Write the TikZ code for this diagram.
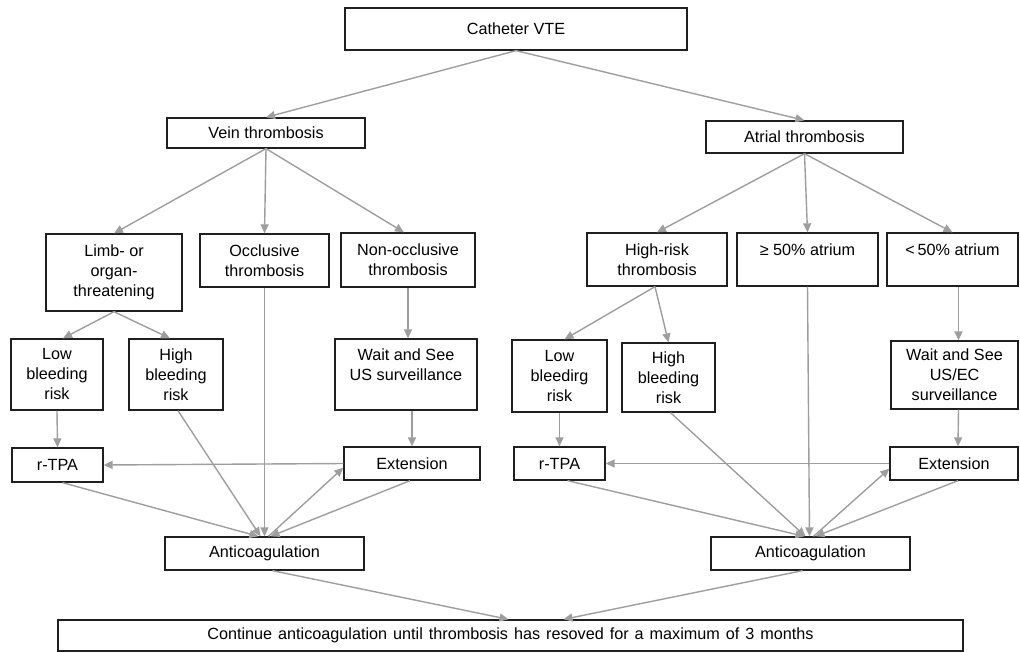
\documentclass[tikz,border=0pt]{standalone}
\usepackage{fontspec}
\setmainfont{Liberation Sans}
\usetikzlibrary{arrows.meta}
\begin{document}
\begin{tikzpicture}[x=1pt,y=-1pt,
 box/.style={draw=black!88, line width=1.3pt, fill=white, align=center, inner sep=0pt, font=\fontsize{16.2}{20}\selectfont},
 arr/.style={draw=black!38, line width=1.4pt, -{Triangle[length=9pt,width=8pt]}},
 ]
\useasboundingbox[fill=white] (0,0) rectangle (1020,653);
% top
\node[box, minimum width=342, minimum height=42] (cat) at (516,29) {Catheter VTE};
\node[box, minimum width=198, minimum height=30] (vein) at (266,133) {Vein thrombosis};
\node[box, minimum width=197, minimum height=32] (atrial) at (804.5,137) {Atrial thrombosis};
% left branch
\node[box, minimum width=136, minimum height=77] (limb) at (114,272.5) {Limb- or\\organ-\\threatening};
\node[box, minimum width=129, minimum height=53] (occl) at (264.5,260.5) {Occlusive\\thrombosis};
\node[box, minimum width=134, minimum height=54] (nonocc) at (408,260) {Non-occlusive\\thrombosis};
\node[box, minimum width=92, minimum height=71] (lowL) at (57,374.5) {Low\\bleeding\\risk};
\node[box, minimum width=94, minimum height=71] (highL) at (176,374.5) {High\\bleeding\\risk};
\node[box, minimum width=142, minimum height=71] (waitL) at (406,374.5) {Wait and See\\US surveillance\\\mbox{}};
\node[box, minimum width=91, minimum height=34] (rtpaL) at (57.5,465) {r-TPA};
\node[box, minimum width=136, minimum height=33] (extL) at (412,463.5) {Extension};
\node[box, minimum width=199, minimum height=33] (antiL) at (264.5,553.5) {Anticoagulation};
% right branch
\node[box, minimum width=140, minimum height=53] (hrisk) at (657,259.5) {High-risk\\thrombosis};
\node[box, minimum width=141, minimum height=53] (ge50) at (807.5,259.5) {≥ 50\% atrium\\\mbox{}};
\node[box, minimum width=131, minimum height=53] (lt50) at (952.5,259.5) {<\,50\% atrium\\\mbox{}};
\node[box, minimum width=95, minimum height=72] (lowR) at (559.5,376) {Low\\bleedirg\\risk};
\node[box, minimum width=93, minimum height=69] (highR) at (668.5,377.5) {High\\bleeding\\risk};
\node[box, minimum width=127, minimum height=68] (waitR) at (954.5,375) {Wait and See\\US/EC\\surveillance};
\node[box, minimum width=91, minimum height=33] (rtpaR) at (559.5,463.5) {r-TPA};
\node[box, minimum width=128, minimum height=33] (extR) at (954,463.5) {Extension};
\node[box, minimum width=199, minimum height=33] (antiR) at (810.5,553.5) {Anticoagulation};
% bottom
\node[box, minimum width=905, minimum height=31] (cont) at (510.5,635.5) {{\spaceskip=6pt plus 1pt Continue anticoagulation until thrombosis has resoved for a maximum of 3 months}};
% connectors top
\draw[arr] (cat.south) -- (vein.north);
\draw[arr] (cat.south) -- (atrial.north);
\draw[arr] (vein.south) -- (limb.north);
\draw[arr] (vein.south) -- (occl.north);
\draw[arr] (vein.south) -- ([xshift=-4pt]nonocc.north);
\draw[arr] (atrial.south) -- (hrisk.north);
\draw[arr] (atrial.south) -- (ge50.north);
\draw[arr] (atrial.south) -- (lt50.north);
% left
\draw[arr] (limb.south) -- ([xshift=6pt]lowL.north);
\draw[arr] (limb.south) -- ([xshift=-6pt]highL.north);
\draw[arr] (nonocc.south) -- ([xshift=2pt]waitL.north);
\draw[arr] (lowL.south) -- (rtpaL.north);
\draw[arr] ([xshift=6pt]waitL.south) -- (extL.north);
\draw[arr] ([xshift=2pt]highL.south) -- ([xshift=-4pt]antiL.north);
\draw[arr] (occl.south) -- (antiL.north);
\draw[arr] ([xshift=5pt]rtpaL.south) -- ([xshift=-6pt]antiL.north);
\draw[arr] (extL.west) -- (rtpaL.east);
\draw[arr] ([xshift=4pt]antiL.north) -- ([yshift=13pt]extL.south west);
\draw[arr] ([xshift=-2pt]extL.south) -- ([xshift=6pt]antiL.north);
\draw[arr] ([xshift=8pt]antiL.south) -- ([xshift=-2pt]cont.north);
% right
\draw[arr] ([xshift=-2pt]hrisk.south) -- ([xshift=5pt]lowR.north);
\draw[arr] ([xshift=-2pt]hrisk.south) -- (highR.north);
\draw[arr] (ge50.south) -- ([xshift=-1pt]antiR.north);
\draw[arr] ([xshift=6pt]lt50.south) -- ([xshift=4pt]waitR.north);
\draw[arr] (lowR.south) -- (rtpaR.north);
\draw[arr] ([xshift=4pt]waitR.south) -- ([xshift=4pt]extR.north);
\draw[arr] ([xshift=2pt]highR.south) -- ([xshift=-5pt]antiR.north);
\draw[arr] ([xshift=8pt]rtpaR.south) -- ([xshift=-6pt]antiR.north);
\draw[arr] (extR.west) -- (rtpaR.east);
\draw[arr] ([xshift=3pt]antiR.north) -- ([yshift=12pt]extR.south west);
\draw[arr] ([xshift=4pt]extR.south) -- ([xshift=5pt]antiR.north);
\draw[arr] ([xshift=-8pt]antiR.south) -- ([xshift=53pt]cont.north);
\end{tikzpicture}
\end{document}
